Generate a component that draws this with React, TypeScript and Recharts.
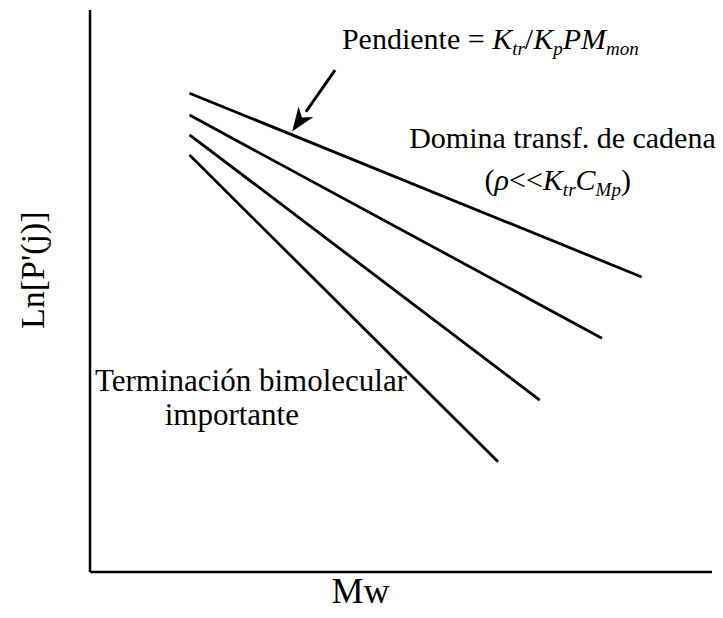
import {
  LineChart,
  Line,
  XAxis,
  YAxis,
  ReferenceDot,
  ReferenceLine,
} from "recharts";

// Rectas de ln[P'(j)] vs Mw (coordenadas en unidades arbitrarias 0-100)
const lineStartX = 16;
const lineStartY = [85.2, 81.3, 77.8, 74.2];
const lineEndX = [88.7, 82.3, 72.3, 65.6];
const lineEndY = [52.5, 41.6, 30.6, 19.6];

// flecha "Pendiente"
const arrowFrom = { x: 39.4, y: 89.3 };
const arrowTo = { x: 32.5, y: 78.4 };

const xLabel = "Mw";
const yLabel = "Ln[P'(j)]";
const topLabel = "Pendiente = ";
const chainLabel = "Domina transf. de cadena";
const termLines = ["Terminación bimolecular", "importante"];

const series = lineStartY.map((y0, i) => [
  { x: lineStartX, y: y0 },
  { x: lineEndX[i], y: lineEndY[i] },
]);

const FONT = "Liberation Serif";
const base = { fontFamily: FONT, fill: "#000" } as const;

function Arrow(props: any) {
  const { x1, y1, x2, y2 } = props;
  if (x1 == null) return null;
  const ang = Math.atan2(y2 - y1, x2 - x1);
  const len = 24;
  const w = 9;
  const bx = x2 - len * Math.cos(ang);
  const by = y2 - len * Math.sin(ang);
  const px = -Math.sin(ang) * w;
  const py = Math.cos(ang) * w;
  return (
    <g>
      <line x1={x1} y1={y1} x2={bx} y2={by} stroke="#000" strokeWidth={3} />
      <polygon
        points={`${x2},${y2} ${bx + px},${by + py} ${bx + 7 * Math.cos(ang)},${by + 7 * Math.sin(ang)} ${bx - px},${by - py}`}
        fill="#000"
      />
    </g>
  );
}

const txt = (label: string, anchor: string, size: number) =>
  function TextShape(p: any) {
    return (
      <text x={p.cx} y={p.cy} textAnchor={anchor} fontSize={size} style={base}>
        {label}
      </text>
    );
  };

function PendienteShape(p: any) {
  return (
    <text x={p.cx} y={p.cy} fontSize={30} style={base}>
      {topLabel}
      <tspan fontStyle="italic">K</tspan>
      <tspan fontStyle="italic" fontSize={19} dy={6}>tr</tspan>
      <tspan dy={-6}>/</tspan>
      <tspan fontStyle="italic">K</tspan>
      <tspan fontStyle="italic" fontSize={19} dy={6}>p</tspan>
      <tspan fontStyle="italic" dy={-6}>PM</tspan>
      <tspan fontStyle="italic" fontSize={19} dy={6}>mon</tspan>
    </text>
  );
}

function RhoShape(p: any) {
  return (
    <text x={p.cx} y={p.cy} textAnchor="middle" fontSize={30} style={base}>
      (<tspan fontStyle="italic">ρ</tspan>{"<<"}
      <tspan fontStyle="italic">K</tspan>
      <tspan fontStyle="italic" fontSize={19} dy={6}>tr</tspan>
      <tspan fontStyle="italic" dy={-6}>C</tspan>
      <tspan fontStyle="italic" fontSize={19} dy={6}>Mp</tspan>
      <tspan dy={-6}>)</tspan>
    </text>
  );
}

function YLabelShape(p: any) {
  return (
    <text
      x={p.cx}
      y={p.cy}
      transform={`rotate(-90 ${p.cx} ${p.cy})`}
      textAnchor="middle"
      fontSize={34}
      style={base}
    >
      {yLabel}
    </text>
  );
}

export default function App() {
  return (
    <div style={{ position: "absolute", left: 0, top: 0, background: "#fff" }}>
      <LineChart
        width={723}
        height={618}
        margin={{ top: 10, right: 11, left: 30, bottom: 0 }}
      >
        <XAxis
          type="number"
          dataKey="x"
          domain={[0, 100]}
          allowDataOverflow
          tick={false}
          tickLine={false}
          axisLine={{ stroke: "#000", strokeWidth: 2.5 }}
          height={46}
        />
        <YAxis
          type="number"
          dataKey="y"
          domain={[0, 100]}
          allowDataOverflow
          tick={false}
          tickLine={false}
          axisLine={{ stroke: "#000", strokeWidth: 2.5 }}
          width={60}
        />
        {series.map((d, i) => (
          <Line
            key={i}
            data={d}
            dataKey="y"
            type="linear"
            stroke="#000"
            strokeWidth={2.8}
            dot={false}
            activeDot={false}
            isAnimationActive={false}
          />
        ))}
        <ReferenceLine
          segment={[arrowFrom, arrowTo]}
          ifOverflow="visible"
          shape={Arrow}
        />
        <ReferenceDot x={40.5} y={93} r={0} ifOverflow="visible" shape={PendienteShape} />
        <ReferenceDot x={100.6} y={75.4} r={0} ifOverflow="visible" shape={txt(chainLabel, "end", 30)} />
        <ReferenceDot x={75.2} y={68} r={0} ifOverflow="visible" shape={RhoShape} />
        <ReferenceDot x={0.8} y={32.2} r={0} ifOverflow="visible" shape={txt(termLines[0], "start", 31)} />
        <ReferenceDot x={22.8} y={26.1} r={0} ifOverflow="visible" shape={txt(termLines[1], "middle", 31)} />
        <ReferenceDot x={-7.4} y={53.7} r={0} ifOverflow="visible" shape={YLabelShape} />
        <ReferenceDot x={43.5} y={-5.5} r={0} ifOverflow="visible" shape={txt(xLabel, "middle", 36)} />
      </LineChart>
    </div>
  );
}
